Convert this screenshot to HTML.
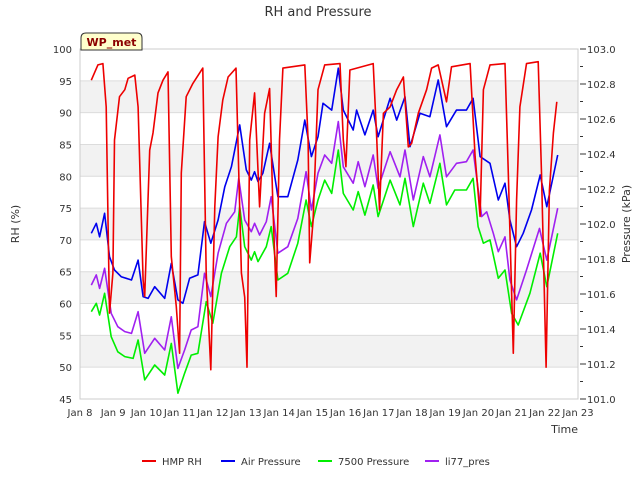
<!DOCTYPE html>
<html><head><meta charset="utf-8"><style>
body{margin:0;background:#fff;font-family:"Liberation Sans",sans-serif}
svg text{font-family:"DejaVu Sans","Liberation Sans",sans-serif}
</style></head><body>
<svg id="chart" width="640" height="480" viewBox="0 0 640 480">
<text x="318" y="16" text-anchor="middle" font-size="13" fill="#333">RH and Pressure</text>
<g id="bands"></g>
<g id="grid"></g>
<g id="series"></g>
<g id="axes"></g>
<g>
<path d="M81,50 L81,38 Q81,33 86,33 L137,33 Q142,33 142,38 L142,50 Z" fill="#ffffcc" stroke="#333" stroke-width="1"/>
<text x="111.5" y="46" text-anchor="middle" font-size="11" font-weight="bold" fill="#8b0000">WP_met</text>
</g>
<text transform="translate(19,224) rotate(-90)" text-anchor="middle" font-size="11" fill="#333">RH (%)</text>
<text transform="translate(630,224) rotate(-90)" text-anchor="middle" font-size="11" fill="#333">Pressure (kPa)</text>
<text x="578" y="433" text-anchor="end" font-size="11" fill="#333">Time</text>
<g id="legend"></g>
</svg>
<script>
const xTickLabels=["Jan 8","Jan 9","Jan 10","Jan 11","Jan 12","Jan 13","Jan 14","Jan 15","Jan 16","Jan 17","Jan 18","Jan 19","Jan 20","Jan 21","Jan 22","Jan 23"];
const rhTicks=[45,50,55,60,65,70,75,80,85,90,95,100];
const pTicks=[101.0,101.2,101.4,101.6,101.8,102.0,102.2,102.4,102.6,102.8,103.0];
const rhDays=[0.34,0.54,0.69,0.79,0.89,0.99,1.04,1.19,1.35,1.45,1.65,1.75,1.9,1.95,2.02,2.1,2.2,2.35,2.5,2.65,2.75,2.9,3.0,3.05,3.2,3.4,3.7,3.8,3.94,4.06,4.16,4.3,4.46,4.7,4.86,4.96,5.03,5.11,5.26,5.41,5.56,5.71,5.81,5.91,6.01,6.11,6.77,6.87,6.92,7.02,7.17,7.37,7.83,7.93,8.01,8.13,8.83,8.94,9.02,9.14,9.34,9.54,9.74,9.89,9.99,10.19,10.44,10.59,10.79,11.04,11.19,11.75,11.9,12.05,12.15,12.35,12.8,12.9,13.05,13.15,13.25,13.45,13.8,13.9,14.04,14.14,14.26,14.36];
const rhValues=[95.1,97.5,97.7,90.9,58.5,64.8,85.7,92.5,93.6,95.4,95.9,90.9,63.7,61.1,72.1,84.1,86.8,93.1,95.1,96.4,67.4,59.5,52.2,80.5,92.5,94.6,97.0,64.8,49.6,75.2,86.2,92.0,95.6,97.0,64.8,61,50,85.7,93.1,75.2,89.9,93.8,75.2,61.1,85.7,97,97.5,85.7,66.4,73.1,93.6,97.5,97.7,85.7,81.5,96.7,97.7,85.7,74.7,89.9,90.9,93.6,95.6,84.6,85.2,89.9,93.6,97,97.5,91.7,97.2,97.7,83.1,73.7,93.6,97.5,97.7,80.5,52.2,76.3,90.9,97.7,98,80.5,50,77.8,86.8,91.7];
const airDays=[0.34,0.49,0.59,0.74,0.89,1.04,1.24,1.55,1.75,1.9,2.05,2.25,2.55,2.75,2.95,3.1,3.3,3.55,3.75,3.94,4.16,4.36,4.56,4.81,5.01,5.16,5.26,5.36,5.51,5.71,5.96,6.26,6.56,6.77,6.97,7.17,7.32,7.58,7.78,7.93,8.23,8.33,8.58,8.83,8.98,9.34,9.54,9.79,9.94,10.24,10.54,10.79,11.04,11.34,11.64,11.84,12.05,12.35,12.6,12.8,12.95,13.15,13.35,13.6,13.86,14.06,14.39];
const airValues=[101.947,102.004,101.927,102.061,101.813,101.737,101.699,101.68,101.794,101.585,101.575,101.642,101.575,101.775,101.566,101.547,101.69,101.709,102.013,101.89,102.023,102.213,102.327,102.566,102.309,102.251,102.299,102.242,102.29,102.461,102.156,102.156,102.366,102.594,102.385,102.499,102.69,102.651,102.89,102.651,102.537,102.651,102.509,102.651,102.499,102.718,102.594,102.727,102.442,102.633,102.613,102.823,102.556,102.651,102.651,102.718,102.385,102.347,102.137,102.233,102.023,101.87,101.947,102.08,102.28,102.099,102.394];
const p7500Days=[0.34,0.49,0.59,0.74,0.94,1.14,1.35,1.6,1.75,1.95,2.25,2.55,2.75,2.95,3.15,3.35,3.55,3.8,4.0,4.26,4.51,4.71,4.81,4.96,5.16,5.26,5.36,5.61,5.76,5.96,6.26,6.56,6.81,6.97,7.17,7.37,7.58,7.78,7.93,8.23,8.38,8.58,8.83,8.98,9.34,9.64,9.79,10.04,10.34,10.54,10.84,11.04,11.29,11.64,11.84,11.99,12.15,12.35,12.6,12.8,13.0,13.2,13.55,13.86,14.06,14.39];
const p7500Values=[101.499,101.547,101.48,101.604,101.356,101.27,101.242,101.232,101.337,101.109,101.194,101.137,101.318,101.033,101.147,101.251,101.261,101.556,101.433,101.718,101.87,101.927,102.099,101.87,101.794,101.842,101.785,101.87,101.985,101.68,101.718,101.89,102.137,101.985,102.137,102.251,102.175,102.423,102.175,102.08,102.185,102.051,102.223,102.042,102.251,102.109,102.261,101.985,102.233,102.118,102.347,102.109,102.194,102.194,102.261,101.985,101.89,101.909,101.69,101.737,101.49,101.423,101.604,101.833,101.642,101.947];
const li77Days=[0.34,0.49,0.59,0.74,0.94,1.14,1.35,1.55,1.75,1.95,2.25,2.55,2.75,2.95,3.15,3.35,3.55,3.75,3.94,4.16,4.41,4.66,4.78,4.96,5.16,5.26,5.41,5.61,5.76,5.96,6.26,6.56,6.81,6.97,7.17,7.37,7.58,7.78,7.93,8.23,8.38,8.58,8.83,8.98,9.34,9.64,9.79,10.04,10.34,10.54,10.84,11.04,11.34,11.64,11.84,12.1,12.25,12.45,12.6,12.8,12.95,13.15,13.45,13.84,14.06,14.39];
const li77Values=[101.651,101.709,101.632,101.747,101.49,101.413,101.385,101.375,101.499,101.261,101.347,101.28,101.47,101.175,101.28,101.394,101.413,101.718,101.585,101.833,102.004,102.07,102.261,102.023,101.956,102.004,101.937,102.013,102.156,101.833,101.87,102.032,102.299,102.08,102.29,102.394,102.347,102.585,102.327,102.233,102.356,102.213,102.394,102.204,102.413,102.27,102.423,102.137,102.385,102.27,102.509,102.27,102.347,102.356,102.423,102.042,102.07,101.947,101.842,101.927,101.68,101.566,101.737,101.975,101.794,102.09];
const seriesNames=["HMP RH","Air Pressure","7500 Pressure","li77_pres"];

const NS="http://www.w3.org/2000/svg";
const X0=80,X1=578,Y0=49,Y1=399;
const xs=d=>X0+(X1-X0)*d/15;
const yRH=v=>Y1-(v-45)/55*(Y1-Y0);
const yP=v=>Y1-(v-101)/2*(Y1-Y0);
function mk(tag,attrs,parent){const e=document.createElementNS(NS,tag);for(const k in attrs)e.setAttribute(k,attrs[k]);parent.appendChild(e);return e;}
const bands=document.getElementById('bands'),grid=document.getElementById('grid'),axes=document.getElementById('axes'),series=document.getElementById('series'),legend=document.getElementById('legend');
for(let i=0;i<rhTicks.length-1;i++){
  if(i%2===1){const b=mk('rect',{x:X0,y:yRH(rhTicks[i+1]),width:X1-X0,height:yRH(rhTicks[i])-yRH(rhTicks[i+1]),fill:'#f2f2f2'},bands);
  
  }
}
rhTicks.forEach(v=>{
  const l=mk('line',{x1:X0,x2:X1,y1:yRH(v),y2:yRH(v),stroke:'#dcdcdc','stroke-width':1},grid);
  
  
  const t=mk('text',{x:X0-8,y:yRH(v)+4,'text-anchor':'end','font-size':10,fill:'#333'},axes);
  t.textContent=v;
  
  
});
const fr=mk('rect',{x:X0,y:Y0,width:X1-X0,height:Y1-Y0,fill:'none',stroke:'#ccc'},grid);


for(let v=101.0;v<=103.0001;v+=0.1){
  const major=Math.round(v*10)%2===0;
  const tk=mk('line',{x1:X1+2,x2:X1+(major?8:5),y1:yP(v),y2:yP(v),stroke:'#333'},axes);
  
  
}
pTicks.forEach(v=>{
  const t=mk('text',{x:X1+9,y:yP(v)+4,'font-size':10,fill:'#333'},axes);
  t.textContent=v.toFixed(1);
  
  
});
xTickLabels.forEach((s,i)=>{
  const t=mk('text',{x:xs(i),y:Y1+17,'text-anchor':'middle','font-size':10,fill:'#333'},axes);
  t.textContent=s;
  
  
});
function draw(days,vals,yf,color,name){
  const pts=days.map((d,i)=>xs(d).toFixed(1)+','+yf(vals[i]).toFixed(1)).join(' ');
  const p=mk('polyline',{points:pts,fill:'none',stroke:color,'stroke-width':1.6,'stroke-linejoin':'round'},series);
  
  
}
draw(p7500Days,p7500Values,yP,'#00ee00','line-7500-pressure');
draw(li77Days,li77Values,yP,'#a020f0','line-li77-pres');
draw(airDays,airValues,yP,'#0000ee','line-air-pressure');
draw(rhDays,rhValues,yRH,'#ee0000','line-hmp-rh');
const colors=['#ee0000','#0000ee','#00ee00','#a020f0'];
const lx=[142,221,318,425];
seriesNames.forEach((n,i)=>{
  const g=mk('g',{},legend);
  
  
  mk('line',{x1:lx[i],x2:lx[i]+14,y1:461,y2:461,stroke:colors[i],'stroke-width':2},g);
  const t=mk('text',{x:lx[i]+20,y:465,'font-size':10,fill:'#333'},g);
  t.textContent=n;
});
</script>
</body></html>
